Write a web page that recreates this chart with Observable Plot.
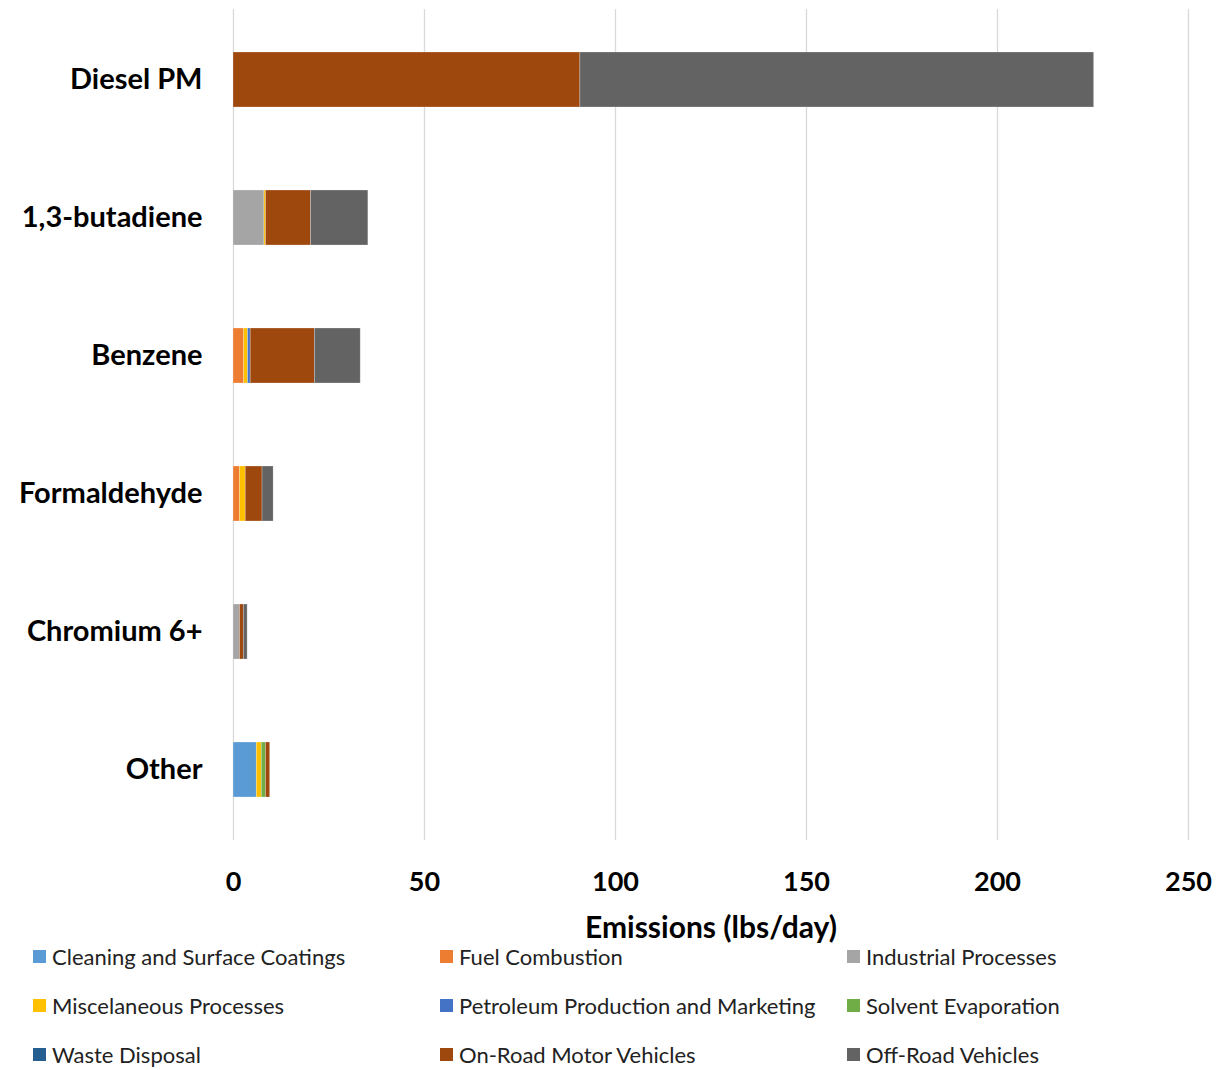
<!DOCTYPE html>
<html>
<head>
<meta charset="utf-8">
<script src="https://cdn.jsdelivr.net/npm/d3@7"></script>
<script src="https://cdn.jsdelivr.net/npm/@observablehq/plot@0.6"></script>
<style>
  html, body { margin: 0; padding: 0; background: #fff; }
  body { width: 1223px; font-family: Lato, "Open Sans", sans-serif; }
  #chart svg { display: block; }
  #legend { display: grid; grid-template-columns: 407px 407px 376px; padding-left: 33px; margin-top: -13px; }
  .item { display: flex; align-items: center; height: 49px; font-size: 22px; color: #222; }
  .sw { width: 13px; height: 13px; margin-right: 6px; flex: none; }
</style>
</head>
<body>
<div id="chart"></div>
<div id="legend"></div>
<script>
const categories = ["Diesel PM", "1,3-butadiene", "Benzene", "Formaldehyde", "Chromium 6+", "Other"];
const sources = ["Cleaning and Surface Coatings", "Fuel Combustion", "Industrial Processes",
  "Miscelaneous Processes", "Petroleum Production and Marketing", "Solvent Evaporation",
  "Waste Disposal", "On-Road Motor Vehicles", "Off-Road Vehicles"];
const colors = ["#5B9BD5", "#ED7D31", "#A5A5A5", "#FFC000", "#4472C4", "#70AD47", "#255E91", "#9E480E", "#636363"];

// values per source, in the order of categories
const cleaning   = [0, 0, 0, 0, 0, 6.1];
const fuel       = [0, 0, 2.8, 1.7, 0, 0];
const industrial = [0, 8.1, 0, 0, 1.7, 0];
const misc       = [0, 0.4, 1.0, 1.5, 0, 1.3];
const petroleum  = [0, 0, 0.7, 0, 0, 0];
const solvent    = [0, 0, 0, 0, 0, 1.1];
const waste      = [0, 0, 0, 0, 0, 0];
const onRoad     = [90.8, 11.8, 16.8, 4.4, 1.0, 1.1];
const offRoad    = [134.5, 15.0, 12.0, 2.9, 1.0, 0];
const xTicks = [0, 50, 100, 150, 200, 250];

const series = [cleaning, fuel, industrial, misc, petroleum, solvent, waste, onRoad, offRoad];
const data = [];
sources.forEach((s, i) => categories.forEach((c, j) => {
  if (series[i][j] > 0) data.push({category: c, source: s, value: series[i][j]});
}));

const chart = Plot.plot({
  width: 1223,
  height: 945,
  marginLeft: 233,
  marginRight: 35,
  marginTop: 9,
  marginBottom: 105,
  style: {fontFamily: "Lato, 'Open Sans', sans-serif", color: "#000"},
  x: {domain: [0, 250], ticks: xTicks, label: null},
  y: {domain: categories, paddingInner: 0.6, paddingOuter: 0.3, label: null},
  color: {domain: sources, range: colors},
  marks: [
    Plot.gridX(xTicks, {stroke: "#d9d9d9", strokeOpacity: 1, strokeWidth: 1.3}),
    Plot.barX(data, {x: "value", y: "category", fill: "source", stroke: "#fff", strokeOpacity: 0.35, strokeWidth: 0.7}),
    Plot.axisX(xTicks, {tickSize: 0, tickPadding: 31, fontSize: 27, fontWeight: "bold", label: null}),
    Plot.axisY({tickSize: 0, tickPadding: 31, fontSize: 29, fontWeight: "bold", label: null}),
    Plot.text(["Emissions (lbs/day)"], {frameAnchor: "bottom", dy: 97, fontSize: 30, fontWeight: "bold", fill: "#000"})
  ]
});
document.getElementById("chart").appendChild(chart);

const legend = document.getElementById("legend");
sources.forEach((s, i) => {
  const it = document.createElement("div");
  it.className = "item";
  it.innerHTML = `<span class="sw" style="background:${colors[i]}"></span><span>${s}</span>`;
  legend.appendChild(it);
});
</script>
</body>
</html>
